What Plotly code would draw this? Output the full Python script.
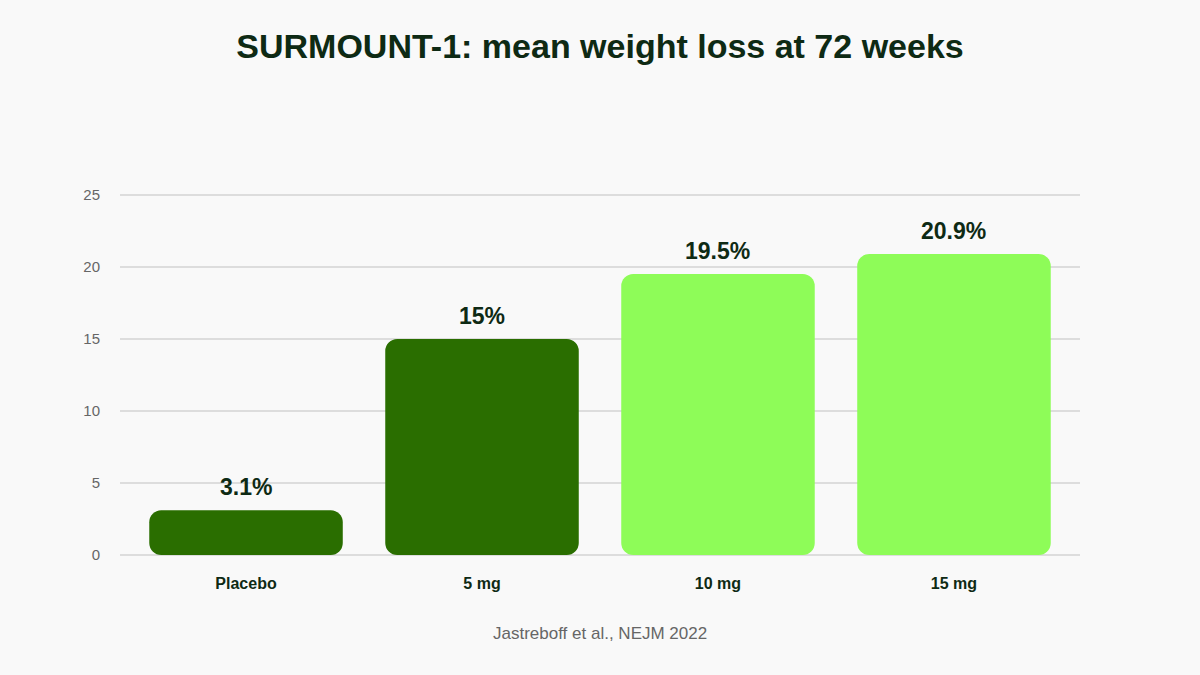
import plotly.graph_objects as go

# Data
doses = ["Placebo", "5 mg", "10 mg", "15 mg"]
weight_loss = [3.1, 15, 19.5, 20.9]
y_ticks = [0, 5, 10, 15, 20, 25]

# Colours
dark_green = "#2a6e00"
light_green = "#8efc58"
bar_colors = [dark_green, dark_green, light_green, light_green]
ink = "#0e2a14"
grey = "#666666"
font_family = "Liberation Sans, Arial, sans-serif"

fig = go.Figure()

# explicit base -> plotly rounds both ends of the bar
fig.add_trace(go.Bar(
    x=doses, y=weight_loss, base=[0] * len(doses),
    marker=dict(color=bar_colors, cornerradius=12, line_width=0),
    hovertemplate="%{x}: %{y}%<extra></extra>",
    showlegend=False
))

# value labels above bars
for d, v in zip(doses, weight_loss):
    fig.add_annotation(
        x=d, y=v, text=f"{v:g}%", showarrow=False,
        yanchor="bottom", yshift=8,
        font=dict(family=font_family, size=23, color=ink, weight="bold")
    )

# source line
fig.add_annotation(
    x=0.5, y=-0.217, xref="paper", yref="paper",
    text="Jastreboff et al., NEJM 2022", showarrow=False,
    xanchor="center", yanchor="middle",
    font=dict(family=font_family, size=17, color=grey)
)

fig.update_layout(
    width=1200, height=675,
    bargap=0.18,
    paper_bgcolor="#f9f9f9",
    plot_bgcolor="#f9f9f9",
    margin=dict(l=120, r=120, t=192, b=120),
    title=dict(
        text="SURMOUNT-1: mean weight loss at 72 weeks",
        x=0.5, xanchor="center", y=0.932, yanchor="middle",
        font=dict(family=font_family, size=34, color=ink, weight="bold")
    ),
    xaxis=dict(
        range=[-0.534, 3.534],
        showgrid=False, zeroline=False, showline=False,
        ticks="outside", ticklen=14, tickcolor="rgba(0,0,0,0)",
        tickfont=dict(family=font_family, size=16, color=ink, weight="bold")
    ),
    yaxis=dict(
        range=[0, 25.2],
        tickvals=y_ticks,
        showgrid=True, gridcolor="#dddddd", gridwidth=1.5,
        zeroline=True, zerolinecolor="#dddddd", zerolinewidth=1.5,
        showline=False,
        ticks="outside", ticklen=16, tickcolor="rgba(0,0,0,0)",
        tickfont=dict(family=font_family, size=15, color=grey)
    ),
)

fig.write_html(
    "out.html",
    config={"displayModeBar": False},
    post_script="document.body.style.margin='0';"
)
